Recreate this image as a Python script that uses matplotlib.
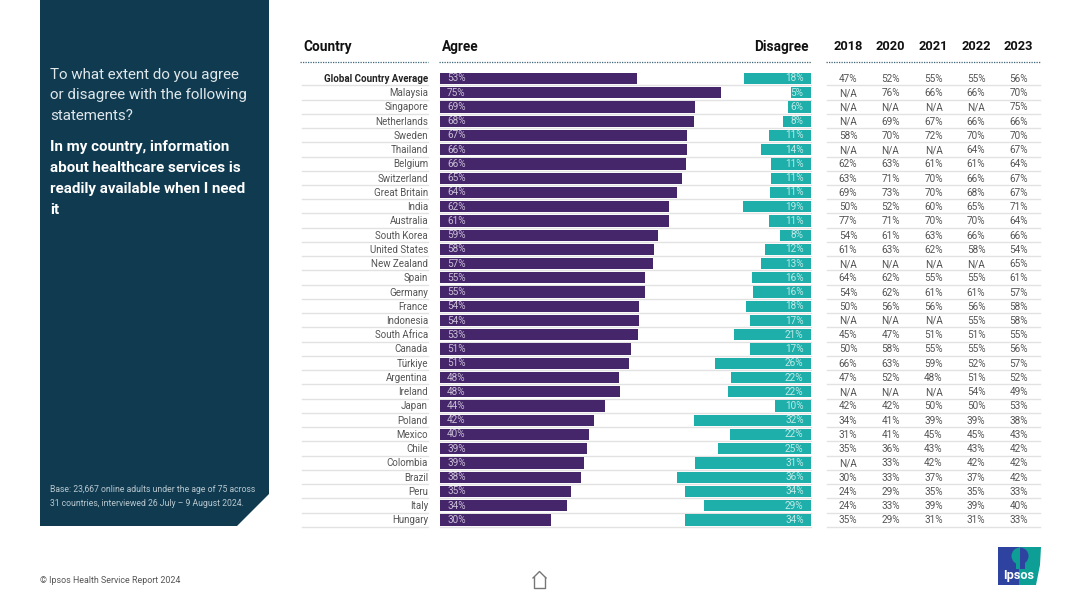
import matplotlib
matplotlib.use('Agg')
import matplotlib.pyplot as plt
from matplotlib.patches import Polygon, Wedge

plt.rcParams['font.family'] = ['Roboto', 'DejaVu Sans']

countries = ['Global Country Average', 'Malaysia', 'Singapore', 'Netherlands', 'Sweden', 'Thailand',
             'Belgium', 'Switzerland', 'Great Britain', 'India', 'Australia', 'South Korea',
             'United States', 'New Zealand', 'Spain', 'Germany', 'France', 'Indonesia',
             'South Africa', 'Canada', 'Türkiye', 'Argentina', 'Ireland', 'Japan', 'Poland',
             'Mexico', 'Chile', 'Colombia', 'Brazil', 'Peru', 'Italy', 'Hungary']
agree = [52.6, 75.0, 68.2, 67.9, 66.1, 66.0, 65.7, 64.6, 63.4, 61.1, 61.1, 58.4, 57.3, 57.0, 54.9, 54.8,
         53.2, 53.3, 52.9, 51.0, 50.5, 47.9, 48.1, 44.0, 41.3, 39.9, 39.4, 38.5, 37.7, 34.9, 34.0, 29.8]
disagree = [17.8, 5.3, 6.2, 7.4, 11.2, 13.4, 10.8, 10.8, 11.0, 18.3, 11.2, 8.2, 12.3, 13.3, 15.7, 15.5,
            17.3, 16.2, 20.5, 16.4, 25.7, 21.5, 22.2, 9.6, 31.3, 21.7, 25.0, 30.9, 35.7, 33.7, 28.5, 33.7]
agree_labels = [53, 75, 69, 68, 67, 66, 66, 65, 64, 62, 61, 59, 58, 57, 55, 55,
                54, 54, 53, 51, 51, 48, 48, 44, 42, 40, 39, 39, 38, 35, 34, 30]
disagree_labels = [18, 5, 6, 8, 11, 14, 11, 11, 11, 19, 11, 8, 12, 13, 16, 16,
                   18, 17, 21, 17, 26, 22, 22, 10, 32, 22, 25, 31, 36, 34, 29, 34]

years = ['2018', '2020', '2021', '2022', '2023']
y2018 = [47, 'N/A', 'N/A', 'N/A', 58, 'N/A', 62, 63, 69, 50, 77, 54, 61, 'N/A', 64, 54,
         50, 'N/A', 45, 50, 66, 47, 'N/A', 42, 34, 31, 35, 'N/A', 30, 24, 24, 35]
y2020 = [52, 76, 'N/A', 69, 70, 'N/A', 63, 71, 73, 52, 71, 61, 63, 'N/A', 62, 62,
         56, 'N/A', 47, 58, 63, 52, 'N/A', 42, 41, 41, 36, 33, 33, 29, 33, 29]
y2021 = [55, 66, 'N/A', 67, 72, 'N/A', 61, 70, 70, 60, 70, 63, 62, 'N/A', 55, 61,
         56, 'N/A', 51, 55, 59, 48, 'N/A', 50, 39, 45, 43, 42, 37, 35, 39, 31]
y2022 = [55, 66, 'N/A', 66, 70, 64, 61, 66, 68, 65, 70, 66, 58, 'N/A', 55, 61,
         56, 55, 51, 55, 52, 51, 54, 50, 39, 45, 43, 42, 37, 35, 39, 31]
y2023 = [56, 70, 75, 66, 70, 67, 64, 67, 67, 71, 64, 66, 54, 65, 61, 57,
         58, 58, 55, 56, 57, 52, 49, 53, 38, 43, 42, 42, 42, 33, 40, 33]
history = [y2018, y2020, y2021, y2022, y2023]

W, H = 1080, 607
PURPLE = '#46266B'
TEAL = '#1FAFAB'
NAVY = '#0F3A50'
ROWTXT = '#555555'
GRID = '#e2e2e2'
BLUE_LOGO = '#2E43A0'
TEAL_LOGO = '#0D9E95'

fig = plt.figure(figsize=(W / 100, H / 100), dpi=100, facecolor='white')
ax = fig.add_axes([0, 0, 1, 1])
ax.set_xlim(0, W)
ax.set_ylim(H, 0)
ax.axis('off')

# left panel
ax.add_patch(Polygon([(40, 0), (269, 0), (269, 494), (237, 526), (40, 526)], closed=True, fc=NAVY, ec='none'))
for y, s in zip([74.5, 95.5, 116.5], ['To what extent do you agree', 'or disagree with the following', 'statements?']):
    ax.text(50, y, s, color='#dfe7ea', fontsize=10.9, va='center', ha='left')
for y, s in zip([146.5, 167.5, 188.5, 209.5], ['In my country, information', 'about healthcare services is',
                                               'readily available when I need', 'it']):
    ax.text(50, y, s, color='white', fontsize=10.9, fontweight='bold', va='center', ha='left')
ax.text(50, 490, 'Base: 23,667 online adults under the age of 75 across', color='#b9c8cf', fontsize=6.2, va='center')
ax.text(50, 503, '31 countries, interviewed 26 July – 9 August 2024.', color='#b9c8cf', fontsize=6.2, va='center')
ax.text(40, 580.5, '© Ipsos Health Service Report 2024', color='#555555', fontsize=6.4, va='center')

# headers
ax.text(303, 47, 'Country', fontsize=9.8, fontweight='bold', color='#111111', va='center')
ax.text(442, 47, 'Agree', fontsize=9.8, fontweight='bold', color='#111111', va='center')
ax.text(809, 47, 'Disagree', fontsize=9.8, fontweight='bold', color='#111111', va='center', ha='right')
col_x = [848, 890.5, 933.5, 976, 1018.5]
for x, yr in zip(col_x, years):
    ax.text(x, 47, yr, fontsize=9.2, fontweight='bold', color='#111111', va='center', ha='center')
for x0, x1 in [(300, 428), (439, 811), (826, 1041)]:
    ax.plot([x0, x1], [62.3, 62.3], color='#3d6478', lw=0.9, ls=(0, (1, 1)))

# rows
row0, pitch = 78.5, 14.24
for i, name in enumerate(countries):
    y = row0 + i * pitch
    ax.text(428, y + 0.4, name, fontsize=7.0, ha='right', va='center', color='#222222' if i == 0 else ROWTXT,
            fontweight='bold' if i == 0 else 'normal')
    for x0, x1 in [(302, 428), (440, 811), (827, 1040)]:
        ax.plot([x0, x1], [y + 6.8, y + 6.8], color=GRID, lw=1.0)
    for x, col in zip(col_x, history):
        v = col[i]
        ax.text(x, y + 0.4, v if v == 'N/A' else f'{v}%', fontsize=7.2, ha='center', va='center', color=ROWTXT)

# bars, same scale on both sides, disagree runs from the right edge
xmax = 371 / 3.74
bar_pos = [440 / W, 1 - (row0 + 31.5 * pitch) / H, 371 / W, 32 * pitch / H]
ax_a = fig.add_axes(bar_pos, facecolor='none')
ax_d = fig.add_axes(bar_pos, facecolor='none')
rows = list(range(len(countries)))
ax_a.barh(rows, agree, height=0.79, color=PURPLE)
ax_d.barh(rows, disagree, height=0.79, color=TEAL)
ax_a.set_xlim(0, xmax)
ax_d.set_xlim(xmax, 0)
for a in (ax_a, ax_d):
    a.set_ylim(31.5, -0.5)
    a.axis('off')
for i in rows:
    ax_a.text(1.9, i, f'{agree_labels[i]}%', fontsize=7.2, color='#c9c0d6', va='center', ha='left')
    ax_d.text(2.0, i, f'{disagree_labels[i]}%', fontsize=7.2, color='#bfeae7', va='center', ha='right')

# home icon
ax.plot([534, 534, 545, 545], [577, 587.5, 587.5, 577], color='#777777', lw=1)
ax.plot([533, 539.5, 546], [578, 571.5, 578], color='#777777', lw=1)

# logo
ax.add_patch(Polygon([(998, 547), (1019, 547), (1019, 585), (998, 585)], closed=True, fc=BLUE_LOGO, ec='none'))
ax.add_patch(Polygon([(1019, 547), (1041, 547), (1040, 565), (1036, 585), (1019, 585)], closed=True, fc=TEAL_LOGO, ec='none'))
ax.add_patch(Wedge((1020, 556), 8.5, 90, 270, fc=TEAL_LOGO, ec='none'))
ax.add_patch(Wedge((1020, 556), 8.5, 270, 90, fc=BLUE_LOGO, ec='none'))
ax.add_patch(Polygon([(1016, 563), (1020, 563), (1020, 569), (1016, 569)], closed=True, fc=TEAL_LOGO, ec='none'))
ax.add_patch(Polygon([(1020, 563), (1025, 563), (1025, 569), (1020, 569)], closed=True, fc=BLUE_LOGO, ec='none'))
ax.text(1018.5, 575, 'Ipsos', color='white', fontsize=9.2, fontweight='bold', ha='center', va='center')

fig.savefig('out.png', dpi=100)
